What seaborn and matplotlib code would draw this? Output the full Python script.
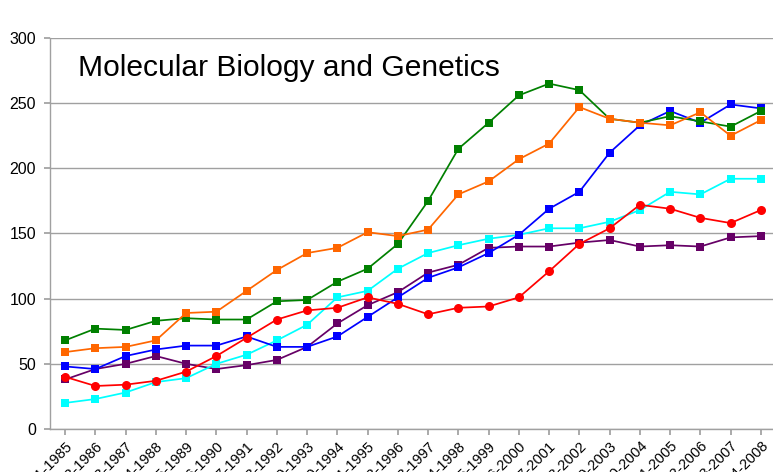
import matplotlib
matplotlib.use("Agg")
import matplotlib.pyplot as plt
import seaborn as sns
import pandas as pd

periods = [f"{y}-{y+4}" for y in range(1981, 2005)]

green = [68, 77, 76, 83, 85, 84, 84, 98, 99, 113, 123, 142, 175, 215, 235, 256, 265, 260, 238, 235, 240, 236, 232, 244]
orange = [59, 62, 63, 68, 89, 90, 106, 122, 135, 139, 151, 148, 153, 180, 190, 207, 219, 247, 238, 235, 233, 243, 225, 237]
blue = [48, 46, 56, 61, 64, 64, 71, 63, 63, 71, 86, 101, 116, 124, 135, 149, 169, 182, 212, 233, 244, 235, 249, 246]
red = [40, 33, 34, 37, 44, 56, 70, 84, 91, 93, 101, 96, 88, 93, 94, 101, 121, 142, 154, 172, 169, 162, 158, 168]
cyan = [20, 23, 28, 36, 39, 50, 57, 68, 80, 101, 106, 123, 135, 141, 146, 149, 154, 154, 159, 168, 182, 180, 192, 192]
purple = [38, 46, 50, 56, 50, 46, 49, 53, 63, 81, 95, 105, 120, 126, 139, 140, 140, 143, 145, 140, 141, 140, 147, 148]

title = "Molecular Biology and Genetics"
yticks = [0, 50, 100, 150, 200, 250, 300]

series = [
    ("purple", purple, "#660066", "s", 5.5),
    ("cyan", cyan, "#00FFFF", "s", 5.5),
    ("blue", blue, "#0000FF", "s", 5.5),
    ("green", green, "#008000", "s", 5.5),
    ("orange", orange, "#FF6600", "s", 5.5),
    ("red", red, "#FF0000", "o", 6.5),
]

sns.set_theme(style="white")
plt.rcParams["font.family"] = ["Liberation Sans", "DejaVu Sans"]

fig = plt.figure(figsize=(7.73, 4.72), dpi=100)
ax = fig.add_axes([50 / 773, 43 / 472, 726 / 773, 391 / 472])

for name, vals, col, mk, ms in series:
    df = pd.DataFrame({"x": range(len(vals)), "y": vals})
    sns.lineplot(data=df, x="x", y="y", ax=ax, color=col, marker=mk,
                 markersize=ms, linewidth=1.25, markeredgewidth=0, sort=False,
                 legend=False)

ax.set_xlim(-0.5, len(periods) - 0.5)
ax.set_ylim(0, 300)
ax.set_yticks(yticks)
ax.set_yticklabels([str(t) for t in yticks], fontsize=11.5, color="black")
ax.set_xticks(range(len(periods)))
ax.set_xticklabels(periods, rotation=45, ha="right", rotation_mode="anchor",
                   fontsize=10.5, color="black")
ax.set_xlabel("")
ax.set_ylabel("")
ax.yaxis.grid(True, color="#A0A0A0", linewidth=1)
ax.xaxis.grid(False)
ax.set_axisbelow(True)
for s in ["top", "right"]:
    ax.spines[s].set_visible(False)
for s in ["left", "bottom"]:
    ax.spines[s].set_color("#A0A0A0")
    ax.spines[s].set_linewidth(1)
ax.tick_params(axis="both", which="both", length=4, color="#A0A0A0",
               direction="out", bottom=True, left=True)
ax.tick_params(axis="y", pad=6)
ax.tick_params(axis="x", pad=3)

ax.text(0.038, 0.96, title, transform=ax.transAxes, fontsize=21.6,
        ha="left", va="top", color="black")

fig.savefig("out.png", dpi=100)
